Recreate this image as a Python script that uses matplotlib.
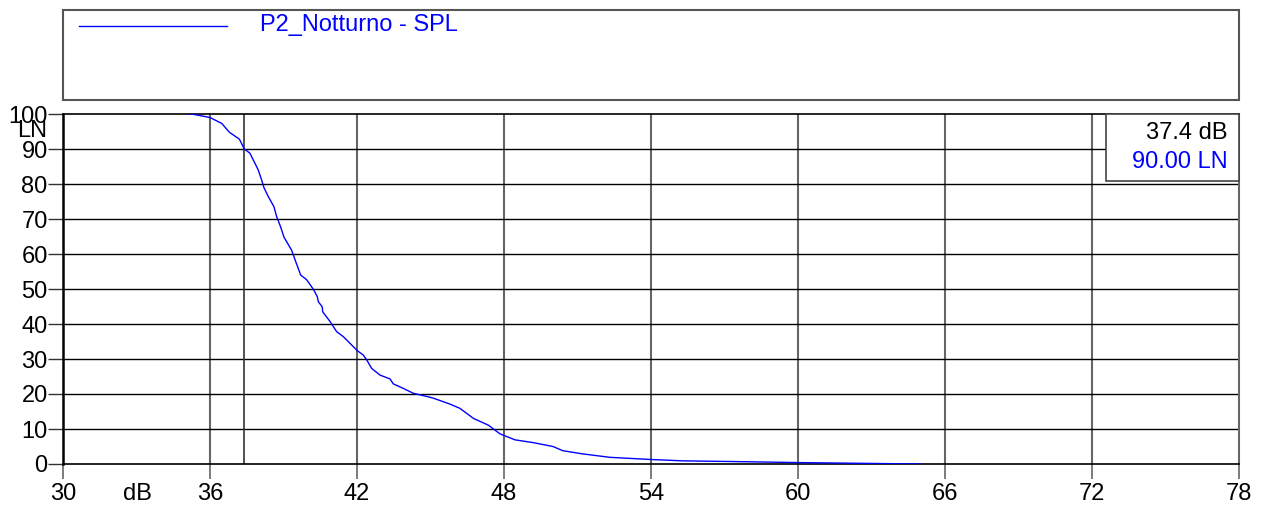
import matplotlib
matplotlib.use("Agg")
import matplotlib.pyplot as plt
from matplotlib.patches import Rectangle
from matplotlib.lines import Line2D

plt.rcParams["font.family"] = ["Liberation Sans", "DejaVu Sans"]

# Cumulative level distribution (LN vs dB)
db = [35.1, 35.25, 36.0, 36.48, 36.79, 37.2, 37.4, 37.63, 37.97, 38.11, 38.2,
      38.38, 38.61, 38.72, 38.88, 39.02, 39.33, 39.5, 39.7, 39.88, 39.95, 40.22,
      40.38, 40.42, 40.58, 40.6, 40.9, 41.17, 41.44, 41.71, 42.01, 42.26, 42.4,
      42.6, 42.94, 43.35, 43.48, 43.89, 44.3, 44.91, 45.12, 45.8, 46.2, 46.76,
      47.36, 47.84, 48.45, 49.2, 50.0, 50.4, 51.2, 52.33, 53.96, 55.3, 57.35,
      60.1, 62.5, 65.0]
ln = [100.0, 100.0, 99.0, 97.3, 94.8, 92.8, 90.0, 88.8, 84.0, 81.1, 79.0,
      76.4, 73.5, 70.7, 67.8, 64.8, 61.1, 57.8, 54.0, 53.0, 52.6, 49.9,
      47.8, 46.4, 44.9, 43.5, 40.7, 37.8, 36.4, 34.5, 32.4, 31.1, 29.7,
      27.3, 25.4, 24.3, 22.9, 21.6, 20.2, 19.2, 18.8, 17.1, 15.9, 13.0,
      11.1, 8.6, 6.9, 6.1, 5.0, 3.8, 2.9, 1.9, 1.3, 0.9, 0.7,
      0.4, 0.2, 0.0]

x_ticks = [30, 36, 42, 48, 54, 60, 66, 72, 78]
y_ticks = [0, 10, 20, 30, 40, 50, 60, 70, 80, 90, 100]
cursor_db = 37.4
cursor_ln = 90.0
series_name = "P2_Notturno - SPL"

W, H = 1262, 505
fig = plt.figure(figsize=(W / 100, H / 100), dpi=100)
ax = fig.add_axes([63 / W, 1 - 464 / H, (1239 - 63) / W, (464 - 114) / H])

blue = "#0000ff"
fs = 17

# grid
for x in x_ticks[1:-1]:
    ax.axvline(x, color="#666666", lw=1.5, zorder=1)
for y in y_ticks[1:-1]:
    ax.axhline(y, color="black", lw=1.0, zorder=1)

ax.plot(db, ln, color=blue, lw=1.0, zorder=3)
ax.plot([cursor_db, cursor_db], [0, 100], color="#333333", lw=1.2, zorder=2)

ax.set_xlim(30, 78)
ax.set_ylim(0, 100)
ax.set_xticks(x_ticks)
ax.set_yticks(y_ticks)
ax.set_xticklabels([str(v) for v in x_ticks], fontsize=fs)
ax.set_yticklabels([str(v) for v in y_ticks], fontsize=fs)
ax.tick_params(axis="x", length=11, width=1.2, color="#666666", pad=3)
ax.tick_params(axis="y", length=11, width=1.0, color="#333333", pad=0)

ax.spines["left"].set_linewidth(1.8)
ax.spines["left"].set_color("black")
ax.spines["top"].set_linewidth(1.2)
ax.spines["bottom"].set_linewidth(1.2)
ax.spines["right"].set_color("#666666")
ax.spines["right"].set_linewidth(1.5)

# axis unit labels
fig.text(47 / W, 1 - 131 / H, "LN", fontsize=fs, ha="right", va="center")
fig.text(137 / W, 1 - 494 / H, "dB", fontsize=fs, ha="center", va="center")

# legend box
fig.patches.append(Rectangle((63 / W, 1 - 100 / H), (1239 - 63) / W, 90 / H,
                             transform=fig.transFigure, fill=False,
                             edgecolor="#555555", lw=1.5))
fig.lines.append(Line2D([79 / W, 227 / W], [1 - 26 / H, 1 - 26 / H],
                        transform=fig.transFigure, color=blue, lw=1.0))
fig.text(260 / W, 1 - 25 / H, series_name, fontsize=fs, color=blue,
         ha="left", va="center")

# cursor readout box
fig.patches.append(Rectangle((1106 / W, 1 - 181 / H), (1239 - 1106) / W, 67 / H,
                             transform=fig.transFigure, facecolor="white",
                             edgecolor="#444444", lw=1.2, zorder=5))
fig.text(1228 / W, 1 - 133 / H, f"{cursor_db:.1f} dB", fontsize=fs,
         ha="right", va="center", zorder=6)
fig.text(1228 / W, 1 - 162 / H, f"{cursor_ln:.2f} LN", fontsize=fs,
         color=blue, ha="right", va="center", zorder=6)

fig.savefig("out.png", dpi=100)
